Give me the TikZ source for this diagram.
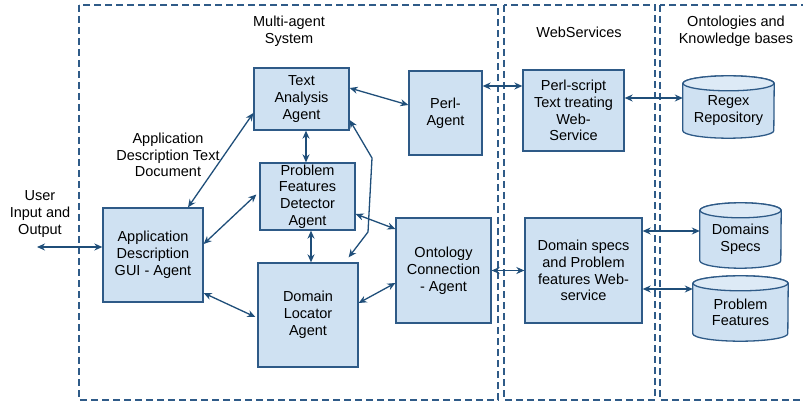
\documentclass[tikz,border=0pt]{standalone}
\usepackage{fontspec}
\setmainfont{Liberation Sans}
\usetikzlibrary{arrows.meta,backgrounds}
\definecolor{boxfill}{HTML}{CFE1F2}
\definecolor{boxline}{HTML}{2E5A87}
\definecolor{topfill}{HTML}{DDEAF6}
\definecolor{arrcol}{HTML}{1F4E79}
\definecolor{framecol}{HTML}{2F5B88}
\begin{document}
\begin{tikzpicture}[x=1pt,y=1pt,
  font=\fontsize{14.5}{16.8}\selectfont,
  agent/.style={draw=boxline, fill=boxfill, line width=1.3pt, align=center, inner sep=0pt},
  dbnode/.style={align=center, inner sep=0pt},
  cylshape/.style={draw=boxline, fill=boxfill, line width=1.3pt},
  arr/.style={draw=arrcol, line width=1.3pt, {Stealth[length=8pt,width=7pt]}-{Stealth[length=8pt,width=7pt]}},
  frame/.style={draw=framecol, line width=1.4pt, dash pattern=on 7pt off 4pt},
  lbl/.style={align=center, inner sep=0pt}]
\useasboundingbox (0,0) rectangle (803,-406);

% frames
\draw[frame] (79,-5) rectangle (498,-400);
\draw[frame] (504,-5) rectangle (655,-400);
\draw[frame] (660,-5) rectangle (812,-400);

% labels
\node[lbl] (lmas) at (289,-31) {Multi-agent\\System};
\node[lbl] (lws) at (579,-32) {WebServices};
\node[lbl] (lokb) at (736,-31) {Ontologies and\\Knowledge bases};
\node[lbl] (ladtd) at (168,-155) {Application\\Description Text\\Document};
\node[lbl] (luser) at (40,-214) {User\\Input and\\Output};

% agents
\node[agent, minimum width=95pt, minimum height=62pt] (ta) at (301.5,-99) {Text\\Analysis\\Agent};
\node[agent, minimum width=95pt, minimum height=67pt] (pfd) at (307.5,-196.5) {Problem\\Features\\Detector\\Agent};
\node[agent, minimum width=100pt, minimum height=94pt] (gui) at (153,-255) {Application\\Description\\GUI - Agent};
\node[agent, minimum width=100pt, minimum height=104pt] (dl) at (308,-315) {Domain\\Locator\\Agent};
\node[agent, minimum width=73pt, minimum height=84pt] (perl) at (445.5,-113) {Perl-\\Agent};
\node[agent, minimum width=95pt, minimum height=105pt] (ont) at (443.5,-270.5) {Ontology\\Connection\\- Agent};
\node[agent, minimum width=101pt, minimum height=81pt] (perlws) at (573.5,-110.5) {Perl-script\\Text treating\\Web-\\Service};
\node[agent, minimum width=117pt, minimum height=105pt] (dsws) at (583.5,-270.5) {Domain specs\\and Problem\\features Web-\\service};

% databases
\node[dbnode, minimum width=91pt, minimum height=54.5pt] (regex) at (728.5,-110.75) {Regex\\Repository};
\node[dbnode, minimum width=81pt, minimum height=57.5pt] (dspecs) at (740.5,-239.25) {Domains\\Specs};
\node[dbnode, minimum width=95pt, minimum height=57.5pt] (pfeat) at (740.5,-312.25) {Problem\\Features};
\begin{scope}[on background layer]
\foreach \n/\rad in {regex/45.5, dspecs/40.5, pfeat/47.5} {
  \draw[cylshape] (\n.north west) -- ([yshift=7.5pt]\n.south west)
    arc[start angle=180, end angle=360, x radius=\rad pt, y radius=7.5pt]
    -- (\n.north east)
    arc[start angle=0, end angle=180, x radius=\rad pt, y radius=7.5pt] -- cycle;
  \draw[cylshape, fill=topfill] (\n.north) ellipse[x radius=\rad pt, y radius=7.5pt];
}
\end{scope}

% connectors
\coordinate (uio) at (37,-247);
\draw[arr] (uio) -- (gui.west |- uio);
\draw[arr] ([xshift=35pt]gui.north) -- ([yshift=-14pt]ta.west);
\draw[arr] ([yshift=11pt]gui.east) -- ([xshift=-3pt,yshift=2pt]pfd.west);
\draw[arr] ([yshift=-38pt]gui.east) -- ([xshift=-2pt,yshift=-2pt]dl.west);
\draw[arr] ([xshift=4.5pt]ta.south) -- ([xshift=4.5pt]ta.south |- pfd.north);
\draw[arr] ([xshift=3.5pt]pfd.south) -- ([xshift=3.5pt]pfd.south |- dl.north);
\draw[arr] ([yshift=11pt]ta.east) -- ([yshift=8pt]perl.west);
\coordinate (bend1) at (372,-158);
\coordinate (bend2) at (368,-232);
\draw[arr] ([yshift=-21pt]ta.east) -- (bend1) -- (bend2) -- ([xshift=-10pt,yshift=5pt]dl.north east);
\draw[arr] ([yshift=-17.5pt]pfd.east) -- ([yshift=41.5pt]ont.west);
\draw[arr] ([yshift=12pt]dl.east) -- ([yshift=-12.5pt]ont.west);
\draw[arr] ([yshift=27pt]perl.east) -- ([yshift=27pt]perl.east -| perlws.west);
\draw[arr] (ont.east) -- (dsws.west);
\draw[arr] ([yshift=12.5pt]perlws.east) -- ([yshift=12.5pt]perlws.east -| regex.west);
\draw[arr] ([yshift=39.5pt]dsws.east) -- ([yshift=39.5pt]dsws.east -| dspecs.west);
\draw[arr] ([yshift=-18.5pt]dsws.east) -- ([yshift=-18.5pt]dsws.east -| pfeat.west);
\end{tikzpicture}
\end{document}
